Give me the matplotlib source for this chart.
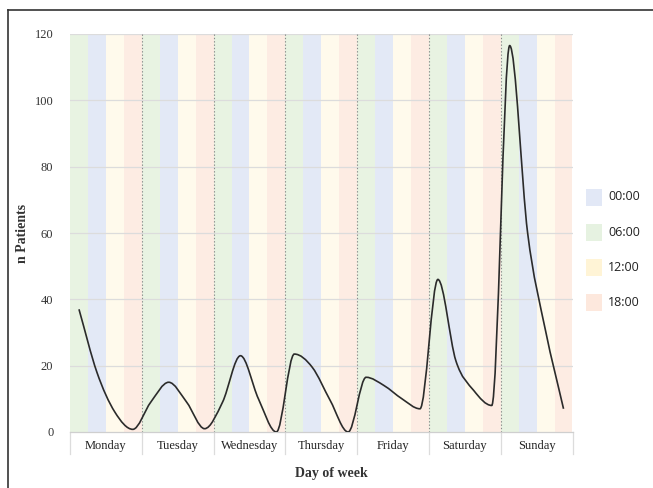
import matplotlib
matplotlib.use("Agg")
import matplotlib.pyplot as plt
from matplotlib.path import Path
from matplotlib.patches import PathPatch, Rectangle
from matplotlib.lines import Line2D
import matplotlib.transforms as mtransforms
import numpy as np

days = ["Monday", "Tuesday", "Wednesday", "Thursday", "Friday", "Saturday", "Sunday"]
# order of the four 6-hour bands inside each day, left to right
band_order = ["06:00", "00:00", "12:00", "18:00"]
legend_labels = ["00:00", "06:00", "12:00", "18:00"]
band_colors = {"00:00": "#e3e9f6", "06:00": "#e8f3e2", "12:00": "#fffaec", "18:00": "#fdece3"}
legend_colors = {"00:00": "#e2e8f6", "06:00": "#e6f2e1", "12:00": "#fff4d6", "18:00": "#fde8dd"}

# patients per 6-hour block (4 per day)
patients = [37, 18, 6, 0.8,
            9, 15, 9, 1,
            9, 23, 10, 0,
            23.5, 19.5, 9.5, 0,
            16.5, 14, 10, 7,
            46, 21.5, 12.5, 8,
            116.5, 60, 30.5, 7]
yticks = [0, 20, 40, 60, 80, 100, 120]

W, H = 653, 488
fig = plt.figure(figsize=(W / 100, H / 100), dpi=100)
ax = fig.add_axes([70 / W, 1 - 432 / H, 502.5 / W, (432 - 34) / H])

nb = len(patients)
ax.set_xlim(0, nb)
ax.set_ylim(0, 120)

# background bands
for i in range(nb):
    lab = band_order[i % 4]
    ax.add_patch(Rectangle((i, 0), 1, 120, facecolor=band_colors[lab], edgecolor="none", zorder=0))

# horizontal gridlines
for t in yticks[1:]:
    ax.axhline(t, color="#dcdcdc", lw=0.9, zorder=1)

# dotted day separators
for d in range(1, len(days)):
    ax.axvline(d * 4, color="#8a8a8a", lw=0.8, ls=(0, (1.2, 1.8)), zorder=2)

# smooth curve through the points (monotone cubic drawn as Bezier segments)
xs = np.arange(nb) + 0.5
ys = np.array(patients, dtype=float)
dlt = np.diff(ys)
m = np.zeros(nb)
m[0], m[-1] = dlt[0], dlt[-1]
for i in range(1, nb - 1):
    if dlt[i - 1] * dlt[i] <= 0:
        m[i] = 0.0
    else:
        t = 0.5 * (dlt[i - 1] + dlt[i])
        lim = 3 * min(abs(dlt[i - 1]), abs(dlt[i]))
        m[i] = np.sign(t) * min(abs(t), lim)
verts = [(xs[0], ys[0])]
codes = [Path.MOVETO]
for i in range(nb - 1):
    c1 = (xs[i] + 1 / 3, ys[i] + m[i] / 3)
    c2 = (xs[i + 1] - 1 / 3, ys[i + 1] - m[i + 1] / 3)
    verts += [c1, c2, (xs[i + 1], ys[i + 1])]
    codes += [Path.CURVE4] * 3
ax.add_patch(PathPatch(Path(verts, codes), facecolor="none", edgecolor="#2b2b2b", lw=1.2, zorder=3))

# axes styling
for s in ["top", "right", "left"]:
    ax.spines[s].set_visible(False)
ax.spines["bottom"].set_color("#cfcfcf")
ax.spines["bottom"].set_linewidth(0.9)
ax.set_yticks(yticks)
ax.set_yticklabels([str(t) for t in yticks], family="Liberation Serif", fontsize=9, color="#333333")
ax.tick_params(axis="y", length=0, pad=12)
ax.set_xticks([d * 4 + 2 for d in range(len(days))])
ax.set_xticklabels(days, family="Liberation Serif", fontsize=9, color="#222222")
ax.tick_params(axis="x", length=0, pad=6)

# separators under the category axis
trans = mtransforms.blended_transform_factory(ax.transData, ax.transAxes)
for d in range(len(days) + 1):
    ax.add_line(Line2D([d * 4, d * 4], [0, -22 / 398], transform=trans, color="#dcdcdc",
                       lw=0.9, clip_on=False))

fig.text(22 / W, 1 - 233 / H, "n Patients", rotation=90, ha="center", va="center",
         family="Liberation Serif", fontweight="bold", fontsize=10, color="#333333")
fig.text(331 / W, 1 - 474 / H, "Day of week", ha="center", va="center",
         family="Liberation Serif", fontweight="bold", fontsize=10, color="#333333")

# legend
for k, lab in enumerate(legend_labels):
    yc = 197 + 35.3 * k
    fig.add_artist(Rectangle((586 / W, 1 - (yc + 8.5) / H), 16 / W, 17 / H,
                             transform=fig.transFigure, facecolor=legend_colors[lab], edgecolor="none"))
    fig.text(608 / W, 1 - yc / H, lab, ha="left", va="center", family="Open Sans",
             fontsize=9, color="#222222")

# outer frame (top and left edges)
fig.add_artist(Line2D([8 / W, 1], [1 - 10 / H, 1 - 10 / H], transform=fig.transFigure, color="#333333", lw=1.2))
fig.add_artist(Line2D([8 / W, 8 / W], [0, 1 - 10 / H], transform=fig.transFigure, color="#333333", lw=1.2))

fig.savefig("out.png", dpi=100)
